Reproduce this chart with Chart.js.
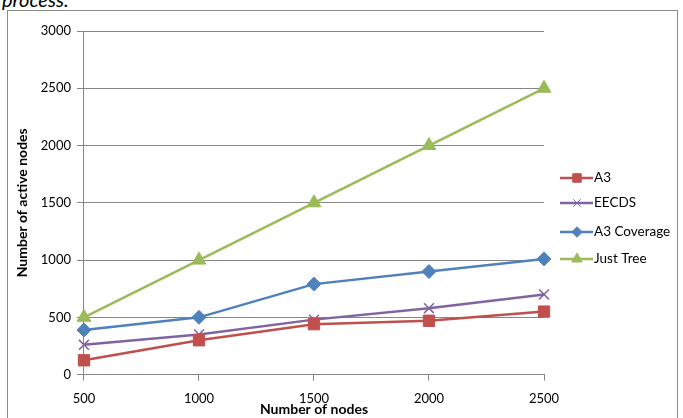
<!DOCTYPE html>
<html>
<head>
<meta charset="utf-8">
<script src="https://cdn.jsdelivr.net/npm/chart.js@4"></script>
<style>
  body { margin: 0; background: #fff; width: 683px; height: 418px; overflow: hidden; position: relative; font-family: Lato, sans-serif; }
  #top { position: absolute; left: 2px; top: -13px; font-style: italic; font-size: 20px; color: #000; }
  #box { position: absolute; left: 7px; top: 10px; width: 669px; height: 420px; border: 1px solid #8c8c8c; }
</style>
</head>
<body>
<div id="top">process.</div>
<div id="box"><canvas id="grafico" width="669" height="420"></canvas></div>
<script>
const nos = ['500', '1000', '1500', '2000', '2500'];
const a3 = [125, 300, 440, 470, 550];
const eecds = [260, 350, 480, 580, 700];
const a3Coverage = [390, 500, 790, 900, 1010];
const justTree = [500, 1000, 1500, 2000, 2500];

const series = [
    { label: 'A3', data: a3, cor: '#C0504D', ponto: 'rect', raio: 8 },
    { label: 'EECDS', data: eecds, cor: '#8064A2', ponto: 'crossRot', raio: 7 },
    { label: 'A3 Coverage', data: a3Coverage, cor: '#4F81BD', ponto: 'rectRot', raio: 7 },
    { label: 'Just Tree', data: justTree, cor: '#9BBB59', ponto: 'triangle', raio: 8 }
];

// legenda no estilo do Excel: linha + marcador
const legendaExcel = {
    id: 'legendaExcel',
    afterDraw(chart) {
        const ctx = chart.ctx;
        const x0 = 552, ys = [167, 192, 221, 248];
        ctx.save();
        chart.data.datasets.forEach((ds, i) => {
            const y = ys[i];
            ctx.strokeStyle = ds.borderColor;
            ctx.lineWidth = 2.5;
            ctx.beginPath();
            ctx.moveTo(x0, y);
            ctx.lineTo(x0 + 33, y);
            ctx.stroke();
            ctx.fillStyle = ds.pointBackgroundColor;
            ctx.strokeStyle = ds.pointBorderColor;
            ctx.lineWidth = 1;
            Chart.helpers.drawPoint(ctx, { pointStyle: ds.pointStyle, radius: ds.pointRadius * 0.75, borderWidth: 1 }, x0 + 17, y);
            ctx.fillStyle = '#000';
            ctx.font = '13.5px Lato';
            ctx.textBaseline = 'middle';
            ctx.fillText(ds.label, x0 + 34, y);
        });
        ctx.restore();
    }
};

const ctx = document.getElementById('grafico').getContext('2d');
new Chart(ctx, {
    type: 'line',
    data: {
        labels: nos,
        datasets: series.map(s => ({
            label: s.label,
            data: s.data,
            borderColor: s.cor,
            backgroundColor: s.cor,
            pointBackgroundColor: s.cor,
            pointBorderColor: s.cor,
            pointStyle: s.ponto,
            pointRadius: s.raio,
            pointBorderWidth: s.ponto === 'crossRot' ? 1.5 : 1,
            borderWidth: 2.5,
            tension: 0
        }))
    },
    options: {
        responsive: false,
        animation: false,
        layout: { padding: { left: 2, right: 133, top: 20, bottom: 13 } },
        plugins: {
            legend: { display: false },
            tooltip: { enabled: false }
        },
        scales: {
            x: {
                offset: false,
                grid: { drawOnChartArea: false, drawTicks: true, tickLength: 6, color: '#868686' },
                border: { color: '#868686' },
                ticks: { color: '#000', font: { family: 'Lato', size: 13 }, padding: 10 },
                title: { display: true, text: 'Number of nodes', color: '#000', font: { family: 'Lato', size: 14, weight: 'bold' }, padding: { top: -15, bottom: 0 } }
            },
            y: {
                min: 0,
                max: 3000,
                ticks: { stepSize: 500, color: '#000', font: { family: 'Lato', size: 13 }, padding: 6, callback: v => String(v) },
                grid: { color: '#868686', tickLength: 7 },
                border: { color: '#868686' },
                title: { display: true, text: 'Number of active nodes', color: '#000', font: { family: 'Lato', size: 14, weight: 'bold' }, padding: 4 }
            }
        }
    },
    plugins: [legendaExcel]
});
</script>
</body>
</html>
